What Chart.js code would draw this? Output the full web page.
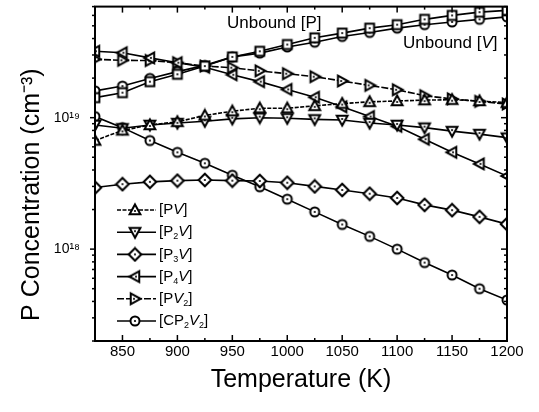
<!DOCTYPE html>
<html>
<head>
<meta charset="utf-8">
<script src="https://cdn.jsdelivr.net/npm/chart.js@4.4.1/dist/chart.umd.min.js"></script>
<style>
html,body{margin:0;padding:0;background:#fff;}
#wrap{width:539px;height:412px;}
</style>
</head>
<body>
<div id="wrap"><canvas id="c" width="539" height="412"></canvas></div>
<script>
// ---- data ----
const temperatureK = [825,850,875,900,925,950,975,1000,1025,1050,1075,1100,1125,1150,1175,1200];
const unboundP = [1.42e19,1.55e19,1.88e19,2.14e19,2.47e19,2.9e19,3.2e19,3.6e19,4.05e19,4.4e19,4.8e19,5.1e19,5.6e19,6.0e19,6.35e19,6.55e19];
const unboundV = [1.6e19,1.74e19,1.99e19,2.24e19,2.5e19,2.9e19,3.1e19,3.45e19,3.75e19,4.15e19,4.45e19,4.8e19,5.1e19,5.35e19,5.6e19,5.85e19];
const seriesPV = [6.7e18,8.0e18,8.8e18,9.3e18,1.04e19,1.12e19,1.18e19,1.18e19,1.23e19,1.28e19,1.32e19,1.34e19,1.36e19,1.37e19,1.34e19,1.3e19];
const seriesP2V = [8.8e18,8.3e18,8.8e18,9.1e18,9.4e18,9.8e18,1.0e19,9.9e18,9.7e18,9.6e18,9.1e18,8.8e18,8.4e18,7.9e18,7.5e18,7.05e18];
const seriesP3V = [2.94e18,3.12e18,3.25e18,3.32e18,3.36e18,3.32e18,3.3e18,3.2e18,3.0e18,2.82e18,2.64e18,2.45e18,2.17e18,1.98e18,1.76e18,1.55e18];
const seriesP4V = [3.2e19,3.12e19,2.85e19,2.62e19,2.42e19,2.12e19,1.88e19,1.64e19,1.43e19,1.21e19,1.02e19,8.6e18,6.85e18,5.45e18,4.45e18,3.6e18];
const seriesPV2 = [2.78e19,2.73e19,2.72e19,2.62e19,2.47e19,2.4e19,2.27e19,2.16e19,2.05e19,1.9e19,1.76e19,1.63e19,1.47e19,1.39e19,1.33e19,1.27e19];
const seriesCP2V2 = [1.02e19,8.4e18,6.7e18,5.45e18,4.5e18,3.65e18,2.98e18,2.4e18,1.92e18,1.54e18,1.25e18,1.0e18,7.9e17,6.35e17,5.0e17,4.1e17];

const xTickValues = [850,900,950,1000,1050,1100,1150,1200];
const xTickLabels = ['850','900','950','1000','1050','1100','1150','1200'];
const yTickValues = [1e18,1e19];
const yTickLabels = ['10\u00B9\u2078','10\u00B9\u2079'];

const legendLabels = [
  [{t:'[P'},{t:'V',it:1},{t:']'}],
  [{t:'[P'},{t:'2',sub:1},{t:'V',it:1},{t:']'}],
  [{t:'[P'},{t:'3',sub:1},{t:'V',it:1},{t:']'}],
  [{t:'[P'},{t:'4',sub:1},{t:'V',it:1},{t:']'}],
  [{t:'[P'},{t:'V',it:1},{t:'2',sub:1},{t:']'}],
  [{t:'[CP'},{t:'2',sub:1},{t:'V',it:1},{t:'2',sub:1},{t:']'}]
];
const unboundPLabel = [{t:'Unbound [P]'}];
const unboundVLabel = [{t:'Unbound ['},{t:'V',it:1},{t:']'}];

// ---- styling ----
const FAMILY = '"Liberation Sans", Arial, Helvetica, sans-serif';

function makeMarker(shape){
  const s = 16, c = document.createElement('canvas');
  c.width = s; c.height = s;
  const g = c.getContext('2d');
  g.translate(s/2, s/2);
  g.lineWidth = 2; g.strokeStyle = '#000'; g.fillStyle = '#fff';
  g.beginPath();
  if (shape === 'circle') g.arc(0,0,4.5,0,2*Math.PI);
  else if (shape === 'square') g.rect(-4.4,-4.4,8.8,8.8);
  else if (shape === 'triangle') { g.moveTo(0,-5.6); g.lineTo(5.4,4.2); g.lineTo(-5.4,4.2); g.closePath(); }
  else if (shape === 'diamond') { g.moveTo(0,-6.3); g.lineTo(6.3,0); g.lineTo(0,6.3); g.lineTo(-6.3,0); g.closePath(); }
  g.fill(); g.stroke();
  g.fillStyle = '#000';
  g.beginPath(); g.arc(0, shape === 'triangle' ? 1 : 0, 1.1, 0, 2*Math.PI); g.fill();
  return c;
}
const mk = {
  circle: makeMarker('circle'), square: makeMarker('square'),
  triangle: makeMarker('triangle'), diamond: makeMarker('diamond')
};

function pts(arr){ return temperatureK.map((t,i)=>({x:t, y:arr[i]})); }

function ds(label, arr, marker, rot, dash){
  return {
    label, data: pts(arr),
    borderColor:'#000', borderWidth:1.6, borderDash: dash || [],
    pointStyle: mk[marker], pointRotation: rot, pointRadius:5,
    pointBackgroundColor:'#fff', pointBorderColor:'#000',
    tension:0, clip:0, fill:false
  };
}

const datasets = [
  ds('Unbound [P]', unboundP, 'square', 0),
  ds('Unbound [V]', unboundV, 'circle', 0),
  ds('[PV]', seriesPV, 'triangle', 0, [4,1.5]),
  ds('[P2V]', seriesP2V, 'triangle', 180),
  ds('[P3V]', seriesP3V, 'diamond', 0),
  ds('[P4V]', seriesP4V, 'triangle', -90),
  ds('[PV2]', seriesPV2, 'triangle', 90, [7,2]),
  ds('[CP2V2]', seriesCP2V2, 'circle', 0)
];

function drawRich(ctx, x, y, parts, size){
  let cx = x;
  ctx.textBaseline = 'middle';
  ctx.textAlign = 'left';
  for (const p of parts){
    const fs = p.sub ? Math.round(size*0.62) : size;
    ctx.font = (p.it ? 'italic ' : '') + fs + 'px ' + FAMILY;
    const dy = p.sub ? size*0.32 : 0;
    ctx.fillText(p.t, cx, y + dy);
    cx += ctx.measureText(p.t).width;
  }
}

const decor = {
  id:'decor',
  afterDraw(chart){
    const {ctx, chartArea:a, scales:{x, y}} = chart;
    ctx.save();
    ctx.strokeStyle = '#000'; ctx.fillStyle = '#000';
    ctx.lineWidth = 1.5;
    const line = (x1,y1,x2,y2)=>{ ctx.beginPath(); ctx.moveTo(x1,y1); ctx.lineTo(x2,y2); ctx.stroke(); };
    // x ticks (inward, top and bottom)
    for (let t = x.min; t <= x.max; t += 25){
      const px = x.getPixelForValue(t);
      const L = (t % 50 === 0) ? 6 : 3;
      line(px, a.bottom, px, a.bottom - L);
      line(px, a.top, px, a.top + L);
    }
    // y ticks (outward left, inward right)
    for (let e = 17; e <= 19; e++){
      for (let m = 1; m <= 9; m++){
        const v = m * Math.pow(10, e);
        if (v < y.min * 0.999 || v > y.max * 1.001) continue;
        const py = y.getPixelForValue(v);
        const major = (m === 1);
        line(a.left, py, a.left - (major ? 5 : 3), py);
        line(a.right, py, a.right - (major ? 6 : 3), py);
      }
    }
    ctx.lineWidth = 2;
    ctx.strokeRect(a.left, a.top, a.right - a.left, a.bottom - a.top);

    // legend
    const legendSets = datasets.slice(2);
    const rowY0 = 210, rowStep = 22.2;
    legendSets.forEach((d, i)=>{
      const yy = rowY0 + i*rowStep;
      ctx.lineWidth = 1.6;
      ctx.setLineDash(d.borderDash || []);
      line(117, yy, 156, yy);
      ctx.setLineDash([]);
      ctx.save();
      ctx.translate(135, yy);
      ctx.rotate((d.pointRotation || 0) * Math.PI / 180);
      ctx.drawImage(d.pointStyle, -d.pointStyle.width/2, -d.pointStyle.height/2);
      ctx.restore();
      ctx.fillStyle = '#000';
      drawRich(ctx, 159, yy, legendLabels[i], 15);
    });

    // annotations
    drawRich(ctx, 227, 23, unboundPLabel, 17);
    drawRich(ctx, 403, 43, unboundVLabel, 17);
    ctx.restore();
  }
};

function noPad(s){ s.paddingTop = 0; s.paddingBottom = 0; s.paddingLeft = 0; s.paddingRight = 0; }

new Chart(document.getElementById('c').getContext('2d'), {
  type:'line',
  data:{ datasets },
  options:{
    responsive:false, animation:false,
    layout:{ padding:{ top:5, right:32, left:0, bottom:0 } },
    plugins:{ legend:{ display:false }, tooltip:{ enabled:false } },
    scales:{
      x:{
        type:'linear', min:825, max:1200,
        grid:{ display:false, drawTicks:false },
        border:{ display:false },
        ticks:{ color:'#000', font:{ size:15, family:FAMILY }, padding:2, maxRotation:0, autoSkip:false,
          callback: (v) => { const i = xTickValues.indexOf(v); return i >= 0 ? xTickLabels[i] : ''; } },
        afterBuildTicks: s => { s.ticks = xTickValues.map(v => ({ value:v })); },
        afterFit: s => { s.height = 71; noPad(s); },
        title:{ display:true, text:'Temperature (K)', color:'#000', font:{ size:25, family:FAMILY }, padding:{ top:0, bottom:17 } }
      },
      y:{
        type:'logarithmic', min:2e17, max:7e19,
        grid:{ display:false, drawTicks:false },
        border:{ display:false },
        ticks:{ color:'#000', font:{ size:14, family:FAMILY }, padding:15, autoSkip:false,
          callback: (v) => { const i = yTickValues.indexOf(v); return i >= 0 ? yTickLabels[i] : ''; } },
        afterBuildTicks: s => { s.ticks = yTickValues.map(v => ({ value:v })); },
        afterFit: s => { s.width = 95; noPad(s); },
        title:{ display:true, text:'P Concentration (cm\u207B\u00B3)\u00A0\u00A0\u00A0\u00A0\u00A0\u00A0', color:'#000', font:{ size:25, family:FAMILY }, padding:{ top:17, bottom:0 } }
      }
    }
  },
  plugins:[decor]
});
</script>
</body>
</html>
